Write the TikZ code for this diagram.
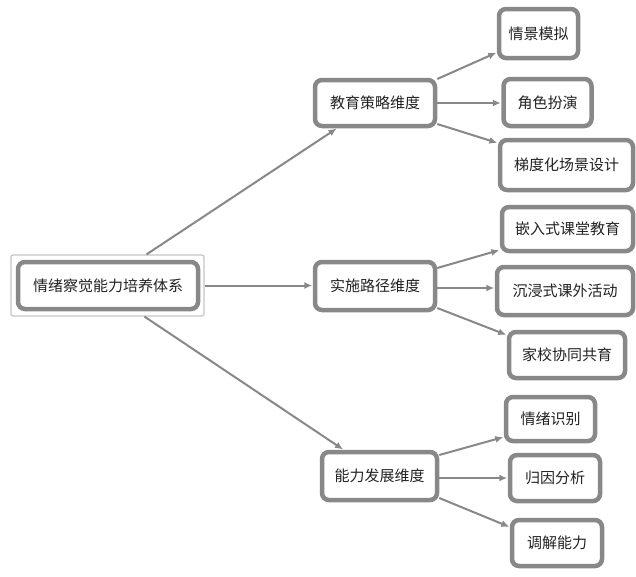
\documentclass[tikz,border=0pt]{standalone}
\usepackage{fontspec}
\newfontfamily\cjk{Noto Sans CJK SC}
\usetikzlibrary{arrows.meta}
\definecolor{bord}{HTML}{888888}
\definecolor{txt}{HTML}{222222}
\definecolor{thin}{HTML}{C4C4C4}
\tikzset{
  box/.style={draw=bord, line width=4.5pt, rounded corners=7pt, fill=white,
    inner sep=0pt, font=\cjk\fontsize{15}{18}\selectfont, text=txt},
  arr/.style={draw=bord, line width=2pt, -{Latex[length=8pt,width=7pt]}, shorten >=0.5pt},
}
\begin{document}
\begin{tikzpicture}[x=1pt,y=-1pt]
\useasboundingbox (0,0) rectangle (636,576);
% root
\node[draw=thin, line width=1.2pt, minimum width=193pt, minimum height=61pt, rounded corners=2pt, inner sep=0pt] (rootframe) at (107.5,285.5) {};
\node[box, minimum width=180pt, minimum height=47pt] (root) at (108,285.5) {情绪察觉能力培养体系};
% level 1
\node[box, minimum width=120pt, minimum height=46pt] (A) at (375,103) {教育策略维度};
\node[box, minimum width=120pt, minimum height=48pt] (B) at (375,286) {实施路径维度};
\node[box, minimum width=115pt, minimum height=48pt] (C) at (379.5,476) {能力发展维度};
% leaves
\node[box, minimum width=79pt, minimum height=49pt] (A1) at (538.5,33.5) {情景模拟};
\node[box, minimum width=88pt, minimum height=47pt] (A2) at (547.5,102.5) {角色扮演};
\node[box, minimum width=133pt, minimum height=50pt] (A3) at (566.5,165) {梯度化场景设计};
\node[box, minimum width=131pt, minimum height=44pt] (B1) at (567.5,229) {嵌入式课堂教育};
\node[box, minimum width=136pt, minimum height=48pt] (B2) at (565,291) {沉浸式课外活动};
\node[box, minimum width=116pt, minimum height=46pt] (B3) at (567,355) {家校协同共育};
\node[box, minimum width=89pt, minimum height=44pt] (C1) at (550.5,419) {情绪识别};
\node[box, minimum width=90pt, minimum height=46pt] (C2) at (555,478) {归因分析};
\node[box, minimum width=90pt, minimum height=46pt] (C3) at (557,543) {调解能力};
% connectors from root
\draw[arr] ([xshift=39pt]rootframe.north) -- ([xshift=-38pt]A.south);
\draw[arr] (rootframe.east) -- (rootframe.east -| B.west);
\draw[arr] ([xshift=37pt]rootframe.south) -- ([xshift=-36pt]C.north);
% level 1 to leaves
\draw[arr] ([yshift=24pt]A.east) -- ([yshift=-19pt]A1.west);
\draw[arr] (A.east) -- (A.east -| A2.west);
\draw[arr] ([yshift=-21pt]A.east) -- ([yshift=22pt]A3.west);
\draw[arr] ([yshift=18pt]B.east) -- ([yshift=-21pt]B1.west);
\draw[arr] ([yshift=-2pt]B.east) -- ([yshift=-2pt]B.east -| B2.west);
\draw[arr] ([yshift=-22pt]B.east) -- ([yshift=20pt]B3.west);
\draw[arr] ([yshift=21pt]C.east) -- ([yshift=-18pt]C1.west);
\draw[arr] ([yshift=-2pt]C.east) -- ([yshift=-2pt]C.east -| C2.west);
\draw[arr] ([yshift=-22pt]C.east) -- ([yshift=16pt]C3.west);
\end{tikzpicture}
\end{document}
